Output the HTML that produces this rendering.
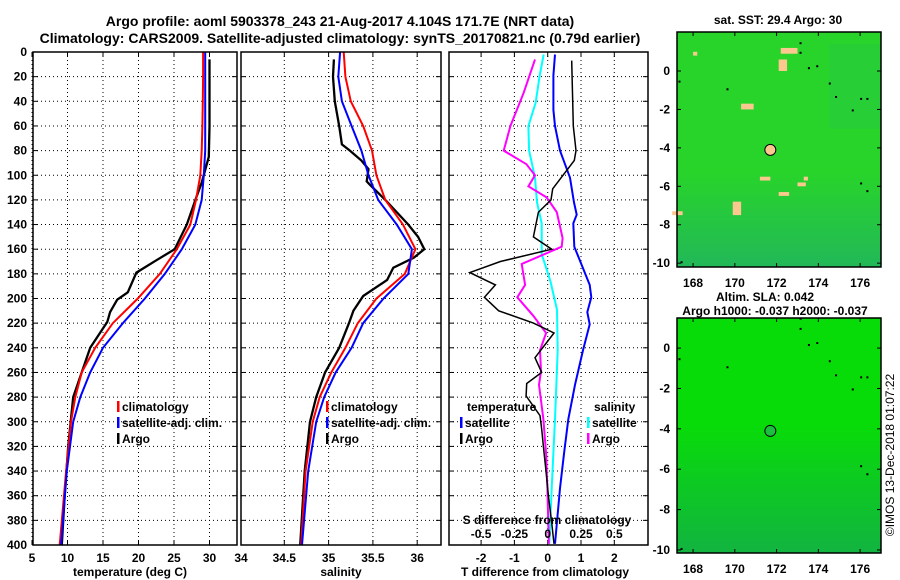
<!DOCTYPE html>
<html><head><meta charset="utf-8"><style>
html,body{margin:0;padding:0;background:#fff;}
svg{display:block;font-family:"Liberation Sans",sans-serif;font-weight:bold;}
</style></head><body>
<svg id="s" width="900" height="580" viewBox="0 0 900 580" xmlns="http://www.w3.org/2000/svg"></svg>
<script>
// ---- data ----
const depthT = [0,20,40,60,80,100,120,140,160,180,200,220,240,260,280,300,340,400];
const tClim = [29.1,29.1,29.05,29.0,28.9,28.7,28.1,27.3,25.4,23.0,19.9,16.4,13.9,12.0,11.1,10.5,9.8,8.9];
const tSat  = [29.4,29.4,29.4,29.4,29.4,29.2,28.9,28.0,26.1,23.7,20.9,17.8,15.0,13.2,11.8,10.8,9.9,9.1];
const depthArgoT = [6,20,40,60,85,106,117,140,160,169,179,195,201,211,219,240,280,320,360,400];
const tArgo = [30.0,30.0,30.0,30.0,29.9,28.9,28.2,26.8,25.1,22.5,19.7,18.5,17.0,16.0,15.6,13.2,10.8,10.1,9.6,9.2];
const sClim = [35.17,35.19,35.25,35.39,35.49,35.54,35.64,35.84,35.98,35.86,35.54,35.33,35.19,35.03,34.90,34.82,34.74,34.69];
const sSat  = [35.13,35.11,35.15,35.26,35.37,35.45,35.56,35.77,35.94,35.90,35.62,35.39,35.26,35.08,34.95,34.86,34.77,34.70];
const depthArgoS = [6,20,40,60,75,80,88,95,105,108,120,140,150,160,167,175,185,198,210,220,240,260,280,300,340,400];
const sArgo = [35.06,35.05,35.07,35.12,35.15,35.24,35.37,35.45,35.43,35.47,35.64,35.90,36.01,36.08,35.96,35.73,35.66,35.39,35.28,35.23,35.12,34.96,34.86,34.79,34.73,34.68];
const depthDT = [7,60,80,88,111,120,130,150,160,170,179,189,199,210,220,228,248,260,269,279,295,306,320,340,360,382,399];
const dTArgo = [0.72,0.77,0.85,0.80,0.15,0.10,-0.28,-0.43,0.12,-1.42,-2.34,-1.57,-1.90,-1.47,-0.43,0.19,-0.38,-0.18,-0.63,-0.65,-0.23,-0.18,-0.13,-0.05,0.02,0.12,0.19];
const depthDTs = [2,19,47,60,80,102,122,132,139,158,172,189,199,211,221,242,270,298,326,354,399];
const dTSat = [0.22,0.17,0.17,0.22,0.37,0.67,0.79,0.87,0.77,0.80,1.01,1.26,1.31,1.19,1.26,1.06,0.82,0.62,0.49,0.37,0.22];
const depthDSs = [2,19,41,60,80,102,122,139,164,186,209,242,298,354,399];
const dSSat = [-0.03,-0.06,-0.09,-0.145,-0.14,-0.095,-0.08,-0.045,-0.045,0.02,0.07,0.075,0.055,0.03,0.012];
const depthDSa = [6,33,60,80,91,100,109,118,130,151,158,172,189,199,214,228,242,259,270,298,326,354,399];
const dSArgo = [-0.095,-0.18,-0.28,-0.33,-0.16,-0.095,-0.145,-0.008,0.068,0.112,0.105,-0.195,-0.17,-0.228,-0.108,-0.012,-0.058,-0.05,-0.065,-0.032,-0.012,-0.002,0.008];
const depthTicks = [0,20,40,60,80,100,120,140,160,180,200,220,240,260,280,300,320,340,360,380,400];
const tTicks = [5,10,15,20,25,30];
const sTicks = [34.5,35,35.5,36];
const dTTicks = [-2,-1,0,1,2];
const dSTicks = [-0.5,-0.25,0,0.25,0.5];
const lonTicks = [168,170,172,174,176];
const latTicks = [0,-2,-4,-6,-8,-10];
const argoLon = 171.7, argoLat = -4.104;

const svg = document.getElementById('s');
const NS = 'http://www.w3.org/2000/svg';
function mk(tag, attrs, parent){const e=document.createElementNS(NS,tag);for(const k in attrs)e.setAttribute(k,attrs[k]);(parent||svg).appendChild(e);return e;}
function txt(x,y,s,anchor,size,parent){const t=mk('text',{x:x,y:y,'text-anchor':anchor||'middle','font-size':size||12},parent);t.textContent=s;return t;}

const Y0=52, Y1=545;
const yD = d => Y0 + d*(Y1-Y0)/400;
const xT = t => 32 + (t-5)*7.1;
const xS = s => 240 + (s-34)*88.6;
const xDT = v => 547.7 + v*33.3;
const xDS = v => 547.7 + v*4*33.3;

let t=txt(340,26,'Argo profile: aoml 5903378_243 21-Aug-2017 4.104S 171.7E (NRT data)','middle',14);

t=txt(340,43,'Climatology: CARS2009. Satellite-adjusted climatology: synTS_20170821.nc (0.79d earlier)','middle',14);


function panel(name,x0,x1){
  const g=mk('g',{});
  
  
  for(const d of depthTicks){ if(d>0&&d<400){ mk('line',{x1:x0,x2:x1,y1:yD(d),y2:yD(d),stroke:'#000','stroke-width':1,'stroke-dasharray':'1,3'},g);} 
    mk('line',{x1:x0,x2:x0+5,y1:yD(d),y2:yD(d),stroke:'#000'},g);
    mk('line',{x1:x1-5,x2:x1,y1:yD(d),y2:yD(d),stroke:'#000'},g);}
  return g;
}
function vgrid(g,xs,x0,x1){for(const x of xs){mk('line',{x1:x,x2:x,y1:Y0,y2:Y1,stroke:'#000','stroke-dasharray':'1,3'},g);mk('line',{x1:x,x2:x,y1:Y1-5,y2:Y1,stroke:'#000'},g);mk('line',{x1:x,x2:x,y1:Y0,y2:Y0+5,stroke:'#000'},g);}}
function frame(g,x0,x1){mk('rect',{x:x0,y:Y0,width:x1-x0,height:Y1-Y0,fill:'none',stroke:'#000','stroke-width':1.5},g);}
function line(g,xs,ds,fx,color,w,name){const p=xs.map((v,i)=>fx(v).toFixed(1)+','+yD(ds[i]).toFixed(1)).join(' ');const e=mk('polyline',{points:p,fill:'none',stroke:color,'stroke-width':w},g);return e;}

const g1=panel('temperature-panel',33,237);
vgrid(g1,tTicks.map(xT),33,237);
line(g1,tArgo,depthArgoT,xT,'#000',2.3,'argo-temperature-line');
line(g1,tClim,depthT,xT,'#f00',2,'climatology-temperature-line');
line(g1,tSat,depthT,xT,'#00f',2,'satellite-temperature-line');
frame(g1,33,237);
for(const d of depthTicks){txt(27,yD(d)+4,String(d),'end',12);}
for(const v of tTicks){txt(xT(v),562,String(v),'middle',12);}
t=txt(130,576,'temperature (deg C)','middle',12);

const g2=panel('salinity-panel',241,441);
vgrid(g2,sTicks.map(xS),241,441);
line(g2,sArgo,depthArgoS,xS,'#000',2.3,'argo-salinity-line');
line(g2,sClim,depthT,xS,'#f00',2,'climatology-salinity-line');
line(g2,sSat,depthT,xS,'#00f',2,'satellite-salinity-line');
frame(g2,241,441);
txt(241,562,'34','middle',12);
for(const v of sTicks){txt(xS(v),562,String(v),'middle',12);}
t=txt(341,576,'salinity','middle',12);

const g3=panel('difference-panel',449,648);
vgrid(g3,dTTicks.map(xDT),449,648);
line(g3,dTSat,depthDTs,xDT,'#00f',2,'satellite-t-difference-line');
line(g3,dSSat,depthDSs,xDS,'#0ff',2,'satellite-s-difference-line');
line(g3,dSArgo,depthDSa,xDS,'#f0f',2,'argo-s-difference-line');
line(g3,dTArgo,depthDT,xDT,'#000',1.5,'argo-t-difference-line');
frame(g3,449,648);
for(const v of dTTicks){txt(xDT(v),562,String(v),'middle',12);}
for(const v of dSTicks){txt(xDS(v),538,String(v),'middle',12);}
t=txt(547,524,'S difference from climatology','middle',12);
t=txt(545,576,'T difference from climatology','middle',12);

function legend(name,x,y,color,label){const g=mk('g',{});
  mk('rect',{x:x,y:y-10,width:2.5,height:11,fill:color},g);txt(x+5,y,label,'start',12,g);}
legend('legend-climatology',117,411,'#f00','climatology');
legend('legend-satellite-adj',117,427,'#00f','satellite-adj. clim.');
legend('legend-argo',117,443,'#000','Argo');
legend('legend-climatology-s',326,411,'#f00','climatology');
legend('legend-satellite-adj-s',326,427,'#00f','satellite-adj. clim.');
legend('legend-argo-s',326,443,'#000','Argo');
txt(467,411,'temperature','start',12);
legend('legend-t-satellite',460,427,'#00f','satellite');
legend('legend-t-argo',460,443,'#000','Argo');
txt(594,411,'salinity','start',12);
legend('legend-s-satellite',587,427,'#0ff','satellite');
legend('legend-s-argo',587,443,'#f0f','Argo');

function map(name,top,bot,latTop,latBot,fillTop,fillBot,mid){
  const x0=677,x1=881;
  const lx = lon => 677 + (lon-167.23)*(204/9.77);
  const ly = lat => top + (latTop-lat)*(bot-top)/(latTop-latBot);
  const g=mk('g',{});
  const gid=name+'grad';
  const defs=mk('defs',{},svg);const lg=mk('linearGradient',{id:gid,x1:0,y1:0,x2:0,y2:1},defs);
  mk('stop',{offset:'0','stop-color':fillTop},lg);mk('stop',{offset:mid,'stop-color':fillTop},lg);mk('stop',{offset:'1','stop-color':fillBot},lg);
  mk('rect',{x:x0,y:top,width:x1-x0,height:bot-top,fill:'url(#'+gid+')'},g);
  return {g,lx,ly,x0,x1};
}
const m1=map('sst-map',32,267,2.03,-10.2,'#28d42a','#22b858','0.6');
const beige=[[172.2,1.2,0.8,0.3],[172.1,0.6,0.4,0.6],[170.3,-1.7,0.6,0.3],[169.9,-6.8,0.4,0.7],[171.2,-5.5,0.5,0.2],[172.1,-6.3,0.5,0.2],[173.0,-5.8,0.4,0.2],[167.0,-7.3,0.5,0.2],[173.3,-5.5,0.2,0.2],[168.0,1.0,0.2,0.2]];
for(const b of beige){mk('rect',{x:m1.lx(b[0]),y:m1.ly(b[1]),width:b[2]*20.9,height:b[3]*19.2,fill:'#fcc890'},m1.g);}
mk('rect',{x:m1.lx(174.5),y:m1.ly(1.4),width:m1.lx(177)-m1.lx(174.5),height:m1.ly(-3)-m1.ly(1.4),fill:'#22b86a',opacity:0.2},m1.g);
mk('circle',{cx:m1.lx(argoLon),cy:m1.ly(argoLat),r:5.5,fill:'#fcc890',stroke:'#000'},m1.g);
mk('rect',{x:677,y:32,width:204,height:235,fill:'none',stroke:'#000','stroke-width':1.5},m1.g);
txt(778,24,'sat. SST: 29.4 Argo: 30','middle',12);
for(const v of lonTicks){txt(m1.lx(v),287,String(v),'middle',12);mk('line',{x1:m1.lx(v),x2:m1.lx(v),y1:267,y2:263,stroke:'#000'});mk('line',{x1:m1.lx(v),x2:m1.lx(v),y1:32,y2:36,stroke:'#000'});}
for(const v of latTicks){txt(670,m1.ly(v)+4,String(v),'end',12);mk('line',{x1:677,x2:681,y1:m1.ly(v),y2:m1.ly(v),stroke:'#000'});mk('line',{x1:877,x2:881,y1:m1.ly(v),y2:m1.ly(v),stroke:'#000'});}

const m2=map('sla-map',318,553,1.49,-10.15,'#08dc08','#12b440','0.45');
mk('circle',{cx:m2.lx(argoLon),cy:m2.ly(argoLat),r:5.5,fill:'#1cc040',stroke:'#000'},m2.g);
mk('rect',{x:677,y:318,width:204,height:235,fill:'none',stroke:'#000','stroke-width':1.5},m2.g);
txt(765,301,'Altim. SLA: 0.042','middle',12);
txt(775,315,'Argo h1000: -0.037 h2000: -0.037','middle',12);
for(const v of lonTicks){txt(m2.lx(v),573,String(v),'middle',12);mk('line',{x1:m2.lx(v),x2:m2.lx(v),y1:553,y2:549,stroke:'#000'});mk('line',{x1:m2.lx(v),x2:m2.lx(v),y1:318,y2:322,stroke:'#000'});}
for(const v of latTicks){txt(670,m2.ly(v)+4,String(v),'end',12);mk('line',{x1:677,x2:681,y1:m2.ly(v),y2:m2.ly(v),stroke:'#000'});mk('line',{x1:877,x2:881,y1:m2.ly(v),y2:m2.ly(v),stroke:'#000'});}
for(const m of [m1,m2]){for(const p of [[173.1,1.5],[173.1,1.0],[173.5,0.2],[173.9,0.3],[174.5,-0.6],[174.8,-1.3],[175.6,-2.0],[176.0,-1.4],[176.3,-1.4],[167.3,-0.5],[169.6,-0.9],[176.0,-5.8],[176.3,-6.2],[167.4,-9.9]]){mk('rect',{x:m.lx(p[0]),y:m.ly(p[1]),width:2,height:2,fill:'#000'},m.g);}}

t=txt(0,0,'©IMOS 13-Dec-2018 01:07:22','middle',12);
t.setAttribute('transform','translate(894,455) rotate(-90)');t.setAttribute('font-weight','normal');

</script>
</body></html>
